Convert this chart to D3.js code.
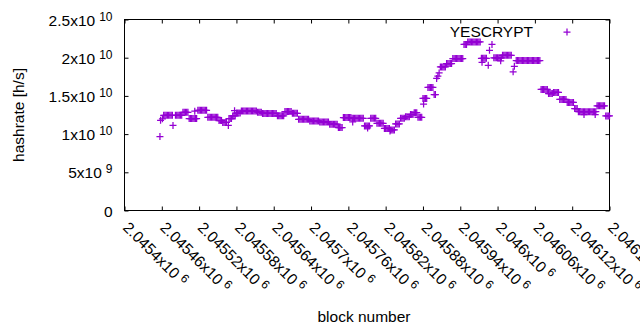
<!DOCTYPE html>
<html><head><meta charset="utf-8">
<script src="https://cdn.jsdelivr.net/npm/d3@7"></script>
<style>
html,body{margin:0;padding:0;background:#fff;}
svg{display:block;}
text{font-family:"Liberation Sans",Arial,sans-serif;fill:#000;}
</style></head><body>
<svg id="chart" width="640" height="330"></svg>
<script>
const seriesName = "YESCRYPT";
const xAxisTitle = "block number";
const yAxisTitle = "hashrate [h/s]";
const xTickValues = [2045400, 2045460, 2045520, 2045580, 2045640, 2045700, 2045760,
  2045820, 2045880, 2045940, 2046000, 2046060, 2046120, 2046180];
const xTickLabels = ["2.0454x10^6", "2.04546x10^6", "2.04552x10^6", "2.04558x10^6",
  "2.04564x10^6", "2.0457x10^6", "2.04576x10^6", "2.04582x10^6", "2.04588x10^6",
  "2.04594x10^6", "2.046x10^6", "2.04606x10^6", "2.04612x10^6", "2.04618x10^6"];
// hashrate values in units of 10^10 h/s
const yTickValues = [0, 0.5, 1, 1.5, 2, 2.5];
const yTickLabels = ["0", "5x10^9", "1x10^10", "1.5x10^10", "2x10^10", "2.5x10^10"];

const blockNumbers = [
2045457, 2045458, 2045461,
2045463, 2045465, 2045467, 2045469, 2045471, 2045473, 2045475, 2045477,
2045478,
2045482, 2045484, 2045486, 2045488, 2045490, 2045492,
2045494, 2045496, 2045498, 2045500, 2045502,
2045504, 2045506, 2045508, 2045510, 2045512, 2045514, 2045516,
2045513,
2045518, 2045520, 2045522, 2045524, 2045526, 2045528, 2045530, 2045532,
2045534, 2045536, 2045538, 2045540, 2045542, 2045544, 2045546, 2045548, 2045550,
2045552, 2045554, 2045556,
2045558, 2045560, 2045562, 2045564,
2045567,
2045568, 2045570, 2045572,
2045574, 2045576, 2045578,
2045577,
2045580, 2045582, 2045584, 2045586,
2045588, 2045590, 2045592, 2045594, 2045596, 2045598, 2045600, 2045602, 2045604, 2045606, 2045608, 2045610, 2045612,
2045614, 2045616, 2045618, 2045620,
2045622, 2045624, 2045626, 2045628, 2045630, 2045632, 2045634, 2045636, 2045638, 2045640, 2045642, 2045644,
2045646, 2045648, 2045650, 2045652, 2045654, 2045656,
2045658, 2045660, 2045662, 2045664, 2045666, 2045668,
2045670, 2045672, 2045674, 2045676, 2045678,
2045680, 2045682, 2045684, 2045686, 2045688, 2045690, 2045692, 2045694, 2045696,
2045698, 2045700, 2045702, 2045704, 2045706, 2045708, 2045710, 2045712,
2045714, 2045716, 2045718, 2045720, 2045722, 2045724, 2045726, 2045728,
2045730, 2045732, 2045734, 2045736, 2045738, 2045740, 2045742,
2045744, 2045746, 2045748, 2045750,
2045752, 2045754, 2045756, 2045758, 2045760, 2045762, 2045764,
2045766, 2045768, 2045770, 2045772, 2045774, 2045776, 2045778, 2045780, 2045782, 2045784,
2045767,
2045786, 2045788, 2045790, 2045792, 2045794,
2045791,
2045796, 2045798, 2045800, 2045802, 2045804,
2045806, 2045808, 2045810, 2045812, 2045814, 2045816,
2045818, 2045820, 2045822, 2045824, 2045826,
2045827,
2045828, 2045830, 2045832, 2045834,
2045836, 2045838, 2045840, 2045842,
2045844, 2045846, 2045848, 2045850,
2045852, 2045854, 2045856, 2045858,
2045860, 2045862, 2045864,
2045866, 2045868, 2045870,
2045872, 2045874, 2045876, 2045878,
2045880, 2045882, 2045884, 2045886,
2045881,
2045888, 2045890, 2045892, 2045894, 2045896,
2045898, 2045900,
2045902, 2045904, 2045906,
2045908, 2045910, 2045912, 2045914, 2045916,
2045918, 2045920, 2045922, 2045924, 2045926,
2045928, 2045930, 2045932, 2045934, 2045936, 2045938, 2045940, 2045942, 2045944,
2045946, 2045948, 2045950,
2045952, 2045954, 2045956, 2045958, 2045960, 2045962, 2045964, 2045966, 2045968, 2045970, 2045972,
2045974, 2045976, 2045978, 2045980, 2045982,
2045975, 2045985, 2045987, 2045991,
2045994, 2045996, 2045998, 2046000, 2046002, 2046004, 2046006,
2046005,
2046008, 2046010, 2046012, 2046014, 2046016, 2046018, 2046020, 2046022,
2046025, 2046027,
2046030, 2046032, 2046034, 2046036, 2046038, 2046040, 2046042, 2046044, 2046046, 2046048,
2046050, 2046052, 2046054, 2046056, 2046058, 2046060, 2046062, 2046064, 2046066, 2046068,
2046070, 2046072, 2046074, 2046076, 2046078, 2046080,
2046082, 2046084, 2046086, 2046088,
2046090, 2046092, 2046094, 2046096, 2046098,
2046100, 2046102, 2046104, 2046106, 2046108, 2046110,
2046112, 2046114, 2046116, 2046118, 2046120, 2046122,
2046124, 2046126, 2046128,
2046130, 2046132, 2046134, 2046136, 2046138, 2046140, 2046142, 2046144, 2046146, 2046148, 2046150, 2046152, 2046154, 2046156, 2046158,
2046139, 2046157,
2046160, 2046162, 2046164, 2046166, 2046168, 2046170, 2046172,
2046174, 2046176, 2046178, 2046180
];

const hashrate1e10 = [
0.967, 1.18, 1.20,
1.246, 1.246, 1.246, 1.246, 1.246, 1.246, 1.246, 1.246,
1.113,
1.246, 1.246, 1.246, 1.246, 1.246, 1.246,
1.285, 1.285, 1.285, 1.285, 1.285,
1.204, 1.204, 1.204, 1.204, 1.204, 1.204, 1.204,
1.30,
1.312, 1.312, 1.312, 1.312, 1.312, 1.312, 1.312, 1.312,
1.22, 1.22, 1.22, 1.22, 1.22, 1.22, 1.22, 1.22, 1.22,
1.178, 1.178, 1.178,
1.152, 1.152, 1.152, 1.152,
1.113,
1.204, 1.204, 1.204,
1.237, 1.237, 1.237,
1.306,
1.276, 1.276, 1.276, 1.276,
1.302, 1.302, 1.302, 1.302, 1.302, 1.302, 1.302, 1.302, 1.302, 1.302, 1.302, 1.302, 1.302,
1.286, 1.286, 1.286, 1.286,
1.271, 1.271, 1.271, 1.271, 1.271, 1.271, 1.271, 1.271, 1.271, 1.271, 1.271, 1.271,
1.24, 1.24, 1.24, 1.24, 1.24, 1.24,
1.295, 1.295, 1.295, 1.295, 1.295, 1.295,
1.272, 1.272, 1.272, 1.272, 1.272,
1.194, 1.194, 1.194, 1.194, 1.194, 1.194, 1.194, 1.194, 1.194,
1.172, 1.172, 1.172, 1.172, 1.172, 1.172, 1.172, 1.172,
1.159, 1.159, 1.159, 1.159, 1.159, 1.159, 1.159, 1.159,
1.129, 1.129, 1.129, 1.129, 1.129, 1.129, 1.129,
1.085, 1.085, 1.085, 1.085,
1.216, 1.216, 1.216, 1.216, 1.216, 1.216, 1.216,
1.207, 1.207, 1.207, 1.207, 1.207, 1.207, 1.207, 1.207, 1.207, 1.207,
1.16,
1.107, 1.107, 1.107, 1.107, 1.107,
1.08,
1.207, 1.207, 1.207, 1.207, 1.207,
1.142, 1.142, 1.142, 1.142, 1.142, 1.142,
1.074, 1.074, 1.074, 1.074, 1.074,
1.04,
1.055, 1.055, 1.055, 1.055,
1.133, 1.133, 1.133, 1.133,
1.207, 1.207, 1.207, 1.207,
1.228, 1.228, 1.228, 1.228,
1.256, 1.256, 1.256,
1.28, 1.28, 1.28,
1.22, 1.22, 1.22, 1.22,
1.467, 1.467, 1.467, 1.467,
1.393,
1.61, 1.61, 1.61, 1.61, 1.61,
1.517, 1.517,
1.728, 1.76, 1.80,
1.879, 1.879, 1.879, 1.879, 1.879,
1.923, 1.923, 1.923, 1.923, 1.923,
1.988, 1.988, 1.988, 1.988, 1.988, 1.988, 1.988, 1.988, 1.988,
2.174, 2.174, 2.174,
2.207, 2.207, 2.207, 2.207, 2.207, 2.207, 2.207, 2.207, 2.207, 2.207, 2.207,
1.992, 1.992, 1.992, 1.992, 1.992,
1.94, 1.90, 2.096, 2.174,
1.999, 1.999, 1.999, 1.999, 1.999, 1.999, 1.999,
1.96,
2.031, 2.031, 2.031, 2.031, 2.031, 2.031, 2.031, 2.031,
1.816, 1.888,
1.963, 1.963, 1.963, 1.963, 1.963, 1.963, 1.963, 1.963, 1.963, 1.963,
1.963, 1.963, 1.963, 1.963, 1.963, 1.963, 1.963, 1.963, 1.963, 1.963,
1.585, 1.585, 1.585, 1.585, 1.585, 1.585,
1.53, 1.53, 1.53, 1.53,
1.545, 1.545, 1.545, 1.545, 1.545,
1.454, 1.454, 1.454, 1.454, 1.454, 1.454,
1.415, 1.415, 1.415, 1.415, 1.415, 1.415,
1.335, 1.335, 1.335,
1.293, 1.293, 1.293, 1.293, 1.293, 1.293, 1.293, 1.293, 1.293, 1.293, 1.293, 1.293, 1.293, 1.293, 1.293,
1.256, 1.256,
1.371, 1.371, 1.371, 1.371, 1.371, 1.371, 1.371,
1.237, 1.237, 1.237, 1.237
];

const points = blockNumbers.map((b, i) => ({ block: b, value: hashrate1e10[i] }));

const svg = d3.select("#chart");
const FONT = 15.5, SUP = 12;
const color = "#9400d3";

const x = d3.scaleLinear().domain([2045400, 2046180]).range([124.5, 609.5]);
const y = d3.scaleLinear().domain([0, 2.5]).range([210.5, 19.5]);

function writeLabel(t, label) {
  const parts = label.split("^");
  t.append("tspan").text(parts[0]);
  if (parts.length > 1) {
    t.append("tspan").attr("dx", 4).attr("dy", "-0.42em").attr("font-size", SUP).text(parts[1]);
  }
}

// axes (ticks inward, mirrored)
const gx = svg.append("g").attr("transform", "translate(0,210.5)")
  .call(d3.axisBottom(x).tickValues(xTickValues).tickSizeInner(-4).tickSizeOuter(0).tickFormat(() => ""));
const gxTop = svg.append("g").attr("transform", "translate(0,19.5)")
  .call(d3.axisTop(x).tickValues(xTickValues).tickSizeInner(-4).tickSizeOuter(0).tickFormat(() => ""));
const gy = svg.append("g").attr("transform", "translate(124.5,0)")
  .call(d3.axisLeft(y).tickValues(yTickValues).tickSizeInner(-4).tickSizeOuter(0).tickFormat(() => ""));
const gyRight = svg.append("g").attr("transform", "translate(609.5,0)")
  .call(d3.axisRight(y).tickValues(yTickValues).tickSizeInner(-4).tickSizeOuter(0).tickFormat(() => ""));
[gx, gxTop, gy, gyRight].forEach(g => {
  g.select(".domain").remove();
  g.selectAll(".tick line").attr("stroke", "#000").attr("stroke-width", 1);
  g.selectAll(".tick text").remove();
});

gy.selectAll(".tick").each(function(d, i) {
  const t = d3.select(this).append("text")
    .attr("x", -12).attr("y", 0).attr("dy", "0.36em")
    .attr("text-anchor", "end").attr("font-size", FONT);
  writeLabel(t, yTickLabels[i]);
});
gx.selectAll(".tick").each(function(d, i) {
  const t = d3.select(this).append("text")
    .attr("transform", "translate(1,14) rotate(45)")
    .attr("dy", "0.36em")
    .attr("text-anchor", "start").attr("font-size", FONT);
  writeLabel(t, xTickLabels[i]);
});

// border
svg.append("rect").attr("x", 124.5).attr("y", 19.5).attr("width", 485).attr("height", 191)
  .attr("fill", "none").attr("stroke", "#000").attr("stroke-width", 1);

// axis titles
svg.append("text").attr("transform", "translate(18,115) rotate(-90)")
  .attr("text-anchor", "middle").attr("dy", "0.36em").attr("font-size", FONT).text(yAxisTitle);
svg.append("text").attr("x", 364).attr("y", 316)
  .attr("text-anchor", "middle").attr("dy", "0.36em").attr("font-size", FONT).text(xAxisTitle);

// points
const plus = "M-3.5,0H3.5M0,-3.5V3.5";
svg.append("g").selectAll("path").data(points).join("path")
  .attr("transform", d => `translate(${x(d.block)},${y(d.value)})`)
  .attr("d", plus).attr("fill", "none").attr("stroke", color).attr("stroke-width", 1.25);

// key
svg.append("text").attr("x", 533).attr("y", 31.5).attr("dy", "0.36em")
  .attr("text-anchor", "end").attr("font-size", FONT).text(seriesName);
svg.append("path").attr("transform", "translate(567,32)").attr("d", plus)
  .attr("fill", "none").attr("stroke", color).attr("stroke-width", 1.25);
</script>
</body></html>
